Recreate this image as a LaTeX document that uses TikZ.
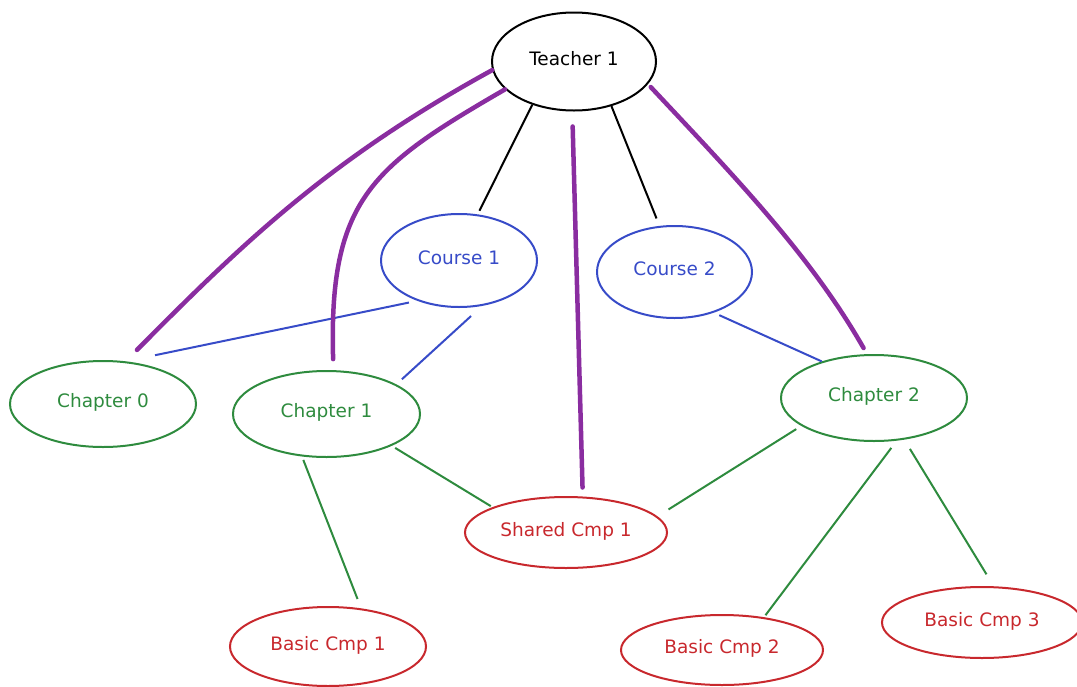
\documentclass[tikz,border=0pt]{standalone}
\usepackage{fontspec}
\setmainfont{DejaVu Sans}
\usetikzlibrary{shapes.geometric}
\definecolor{tblack}{RGB}{0,0,0}
\definecolor{tblue}{RGB}{55,75,200}
\definecolor{tgreen}{RGB}{46,139,62}
\definecolor{tred}{RGB}{200,40,45}
\definecolor{tpurple}{RGB}{138,45,160}
\tikzset{
  ell/.style={ellipse, draw, line width=2pt, inner sep=0pt,
    text height=13pt, text depth=6pt,
    font=\fontsize{18.5}{22}\selectfont},
  teacher/.style={ell, draw=tblack, text=tblack},
  course/.style={ell, draw=tblue, text=tblue},
  chapter/.style={ell, draw=tgreen, text=tgreen},
  cmp/.style={ell, draw=tred, text=tred},
  owns/.style={line width=2pt, draw=tblack},
  blueedge/.style={line width=2pt, draw=tblue},
  greenedge/.style={line width=2pt, draw=tgreen},
  teaches/.style={line width=4.5pt, draw=tpurple, line cap=round}
}
\begin{document}
\begin{tikzpicture}[x=1pt, y=-1pt]
\useasboundingbox (0,0) rectangle (1077,686);

% nodes
\node[teacher, minimum width=164pt, minimum height=98pt] (t) at (574,61.5) {Teacher 1};
\node[course, minimum width=156pt, minimum height=93pt] (c1) at (459,260.5) {Course 1};
\node[course, minimum width=155pt, minimum height=92pt] (c2) at (674.5,272) {Course 2};
\node[chapter, minimum width=186pt, minimum height=86pt] (ch0) at (103,404) {Chapter 0};
\node[chapter, minimum width=187pt, minimum height=86pt] (ch1) at (326.5,414) {Chapter 1};
\node[chapter, minimum width=186pt, minimum height=86pt] (ch2) at (874,398) {Chapter 2};
\node[cmp, minimum width=202pt, minimum height=71pt] (s1) at (566,532.5) {Shared Cmp 1};
\node[cmp, minimum width=196pt, minimum height=79pt] (b1) at (328,646.5) {Basic Cmp 1};
\node[cmp, minimum width=202pt, minimum height=70pt] (b2) at (722,650) {Basic Cmp 2};
\node[cmp, minimum width=200pt, minimum height=71pt] (b3) at (982,622.5) {Basic Cmp 3};

% teacher to courses
\draw[owns, shorten >=4pt] (t.226) -- (c1.68);
\draw[owns, shorten >=8pt] (t.310) -- (c2.108);

% course to chapters
\draw[blueedge, shorten <=8.5pt, shorten >=30pt] (c1.224) -- (ch0.62);
\draw[blueedge, shorten <=15pt, shorten >=7.5pt] (c1.297) -- (ch1.23);
\draw[blueedge, shorten <=6pt] (c2.314) -- (ch2.145);

% chapter to components
\draw[greenedge, shorten <=4pt, shorten >=2pt] (ch1.334) -- (s1.161);
\draw[greenedge, shorten <=3.7pt, shorten >=10pt] (ch1.240) -- (b1.49);
\draw[greenedge, shorten <=6pt, shorten >=13pt] (ch2.201.5) -- (s1.10.7);
\draw[greenedge, shorten <=9pt, shorten >=2.5pt] (ch2.298) -- (b2.38);
\draw[greenedge, shorten <=10.8pt, shorten >=14pt] (ch2.306) -- (b3.72);

% teacher to chapters and shared component
\draw[teaches, shorten >=16pt] (t.186) .. controls +(-164,90) and +(117,-118) .. (ch0.62);
\draw[teaches, shorten >=11pt] (t.202) .. controls +(-133,77) and +(-5,-171) .. (ch1.81);
\draw[teaches, shorten <=15pt, shorten >=9pt] (t.268) -- (s1.65);
\draw[teaches, shorten <=4pt, shorten >=7pt] (t.343) .. controls +(89,95) and +(-56,-98) .. (ch2.99);
\end{tikzpicture}
\end{document}
